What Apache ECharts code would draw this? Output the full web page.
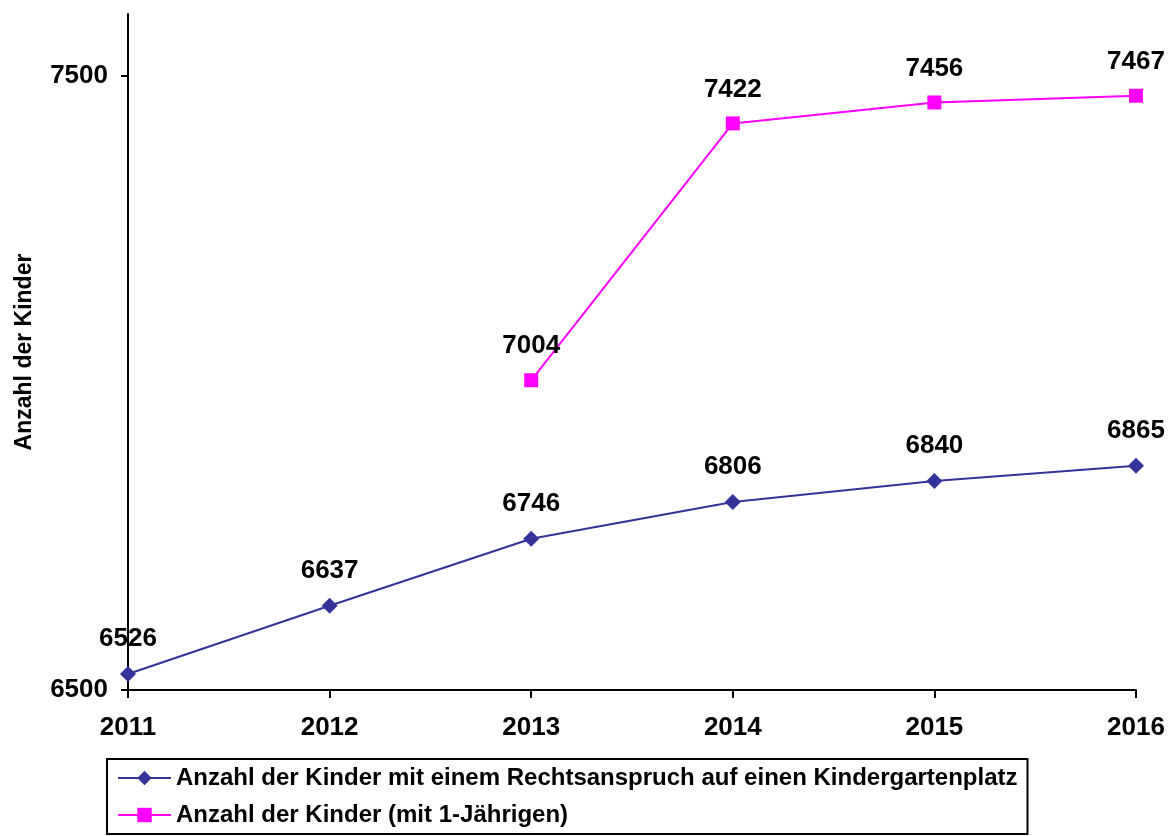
<!doctype html>
<html>
<head>
<meta charset="UTF-8">
<title>Anzahl der Kinder</title>
<script src="https://cdn.jsdelivr.net/npm/echarts@6/dist/echarts.min.js"></script>
<style>
	html, body { margin: 0; padding: 0; background: #fff; }
	#chart { width: 1170px; height: 836px; }
</style>
</head>
<body>
<div id="chart"></div>
<script>
	// Daten
	var years = ['2011', '2012', '2013', '2014', '2015', '2016'];
	var rechtsanspruch = [6526, 6637, 6746, 6806, 6840, 6865];
	var mitEinjaehrigen = [null, null, 7004, 7422, 7456, 7467];
	var yTicks = [6500, 7500];
	var seriesNames = [
		'Anzahl der Kinder mit einem Rechtsanspruch auf einen Kindergartenplatz',
		'Anzahl der Kinder (mit 1-Jährigen)'
	];

	var font = 'Liberation Sans, Arial, sans-serif';
	var lbl = {
		show: true,
		position: 'top',
		distance: 14,
		color: '#000',
		fontFamily: font,
		fontWeight: 'bold',
		fontSize: 26
	};

	var chart = echarts.init(document.getElementById('chart'));
	chart.setOption({
		animation: false,
		textStyle: { fontFamily: font },
		grid: { left: 128, right: 34, top: 14, bottom: 146, containLabel: false, outerBoundsMode: 'none' },
		legend: {
			orient: 'vertical',
			left: 107,
			top: 759,
			data: seriesNames,
			borderColor: '#000',
			borderWidth: 2,
			borderRadius: 0,
			padding: [7, 10, 7, 10],
			itemWidth: 53,
			itemHeight: 18,
			itemGap: 13,
			textStyle: { color: '#000', fontFamily: font, fontWeight: 'bold', fontSize: 24 }
		},
		xAxis: {
			type: 'category',
			data: years,
			boundaryGap: false,
			axisLine: { lineStyle: { color: '#000', width: 2 } },
			axisTick: { alignWithLabel: true, length: 8, lineStyle: { color: '#000', width: 2 } },
			axisLabel: { color: '#000', fontWeight: 'bold', fontSize: 26, margin: 25 },
			splitLine: { show: false }
		},
		yAxis: {
			type: 'value',
			min: 6500,
			max: 7600,
			interval: 1000,
			name: 'Anzahl der Kinder',
			nameLocation: 'middle',
			nameGap: 92,
			nameTextStyle: { color: '#000', fontWeight: 'bold', fontSize: 23 },
			axisLine: { show: true, lineStyle: { color: '#000', width: 2 } },
			axisTick: { show: true, length: 7, customValues: yTicks, lineStyle: { color: '#000', width: 2 } },
			axisLabel: {
				color: '#000', fontWeight: 'bold', fontSize: 26, margin: 20, customValues: yTicks,
				formatter: function (v) { return String(v); }
			},
			splitLine: { show: false }
		},
		series: [{
			name: seriesNames[0],
			type: 'line',
			data: rechtsanspruch,
			symbol: 'diamond',
			symbolSize: 16,
			color: '#333399',
			lineStyle: { width: 2, color: '#333399' },
			itemStyle: { color: '#333399' },
			label: lbl
		}, {
			name: seriesNames[1],
			type: 'line',
			data: mitEinjaehrigen,
			symbol: 'rect',
			symbolSize: 14,
			color: '#FF00FF',
			lineStyle: { width: 2, color: '#FF00FF' },
			itemStyle: { color: '#FF00FF' },
			label: lbl
		}]
	});
</script>
</body>
</html>
